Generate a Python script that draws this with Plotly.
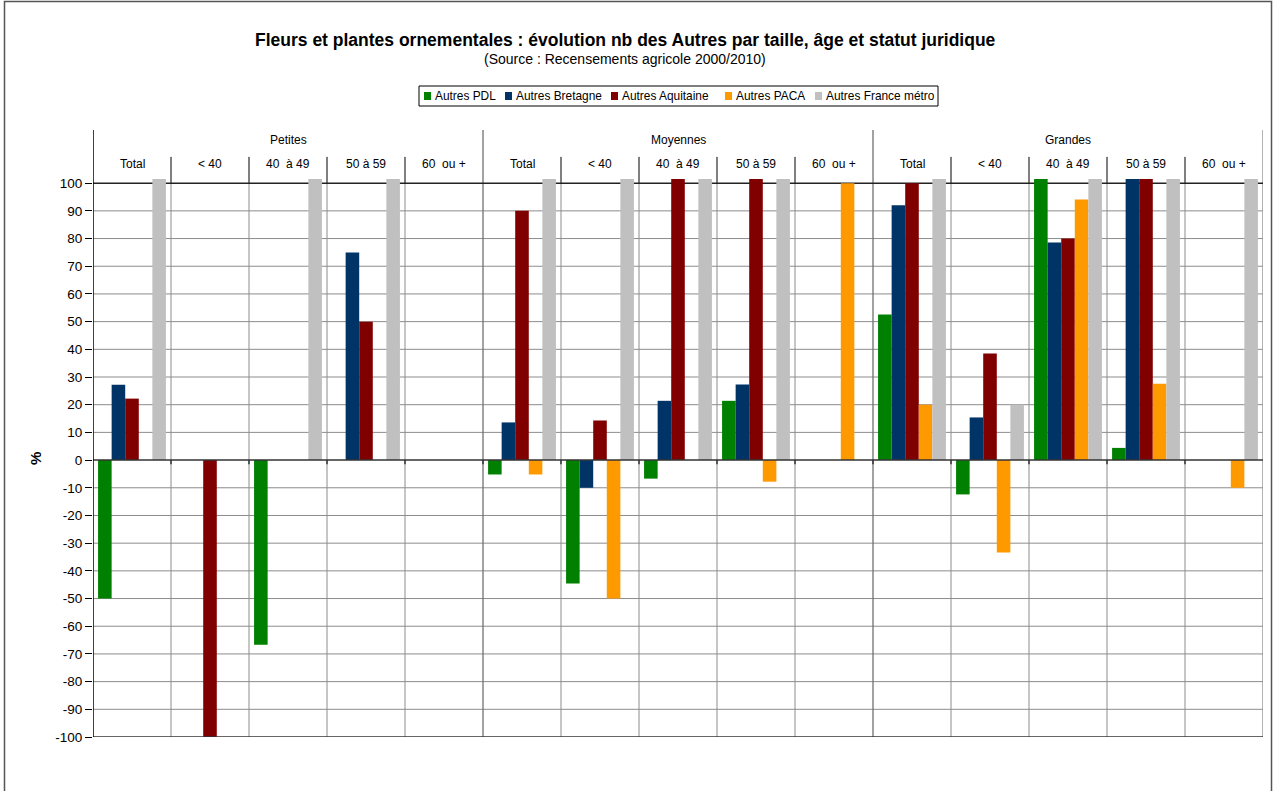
import plotly.graph_objects as go

# Category structure: three size classes, five age brackets each
groups = ["Petites", "Moyennes", "Grandes"]
ages = ["Total", "< 40", "40\u00a0 à 49", "50 à 59", "60\u00a0 ou +"]

series_names = ["Autres PDL", "Autres Bretagne", "Autres Aquitaine", "Autres PACA", "Autres France métro"]

# Evolution 2000/2010 (%) per category, in order Petites x5, Moyennes x5, Grandes x5
pdl       = [-50, None, -66.7, None, None,   -5.2, -44.6, -6.7, 21.4, None,   52.6, -12.4, 101.5, 4.4, None]
bretagne  = [27.2, None, None, 75, None,     13.6, -10, 21.4, 27.3, None,     92, 15.4, 78.6, 101.5, None]
aquitaine = [22.2, -100, None, 50, None,     90, 14.3, 101.5, 101.5, None,    100, 38.5, 80, 101.5, None]
paca      = [None, None, None, None, None,   -5.2, -50, None, -7.8, 100,      20, -33.4, 94.1, 27.6, -10]
france    = [101.5, None, 101.5, 101.5, None, 101.5, 101.5, 101.5, 101.5, None, 101.5, 20, 101.5, 101.5, 101.5]

colors = ["#008000", "#003366", "#800000", "#FF9900", "#C0C0C0"]

y_ticks = list(range(-100, 101, 10))

n_cat = len(groups) * len(ages)
xs = list(range(n_cat))

FONT = "Liberation Sans, Arial, sans-serif"

# page geometry (pixels) used to place items outside the plotting area
W, H = 1276, 791
ML, MR, MT, MB = 93, 13, 130, 54
PW, PH = W - ML - MR, H - MT - MB


def px(x):
    return (x - ML) / PW


def py(y):
    return (H - MB - y) / PH


fig = go.Figure()
for name, vals, col in zip(series_names, [pdl, bretagne, aquitaine, paca, france], colors):
    fig.add_trace(go.Bar(x=xs, y=vals, name=name, showlegend=False,
                         marker=dict(color=col, line=dict(width=0))))

Y_TOP = 119.2        # top of the header band above the value axis
Y_GROUP_SEP = 111.5  # bottom of the size-class header row
shapes = []
# horizontal gridlines
for v in y_ticks:
    if v in (0, 100, -100):
        continue
    shapes.append(dict(type="line", xref="x", yref="y", x0=-0.5, x1=n_cat - 0.5, y0=v, y1=v,
                       line=dict(color="#8c8c8c", width=1), layer="below"))
# vertical separators between age brackets
for i in range(1, n_cat):
    if i % len(ages) == 0:
        continue
    shapes.append(dict(type="line", xref="x", yref="y", x0=i - 0.5, x1=i - 0.5, y0=-100, y1=100,
                       line=dict(color="#8c8c8c", width=1), layer="below"))
    shapes.append(dict(type="line", xref="x", yref="y", x0=i - 0.5, x1=i - 0.5, y0=100, y1=Y_GROUP_SEP - 2,
                       line=dict(color="#000000", width=1), layer="below"))
# separators between size classes (full height)
for i in range(len(ages), n_cat, len(ages)):
    shapes.append(dict(type="line", xref="x", yref="y", x0=i - 0.5, x1=i - 0.5, y0=-100, y1=Y_TOP,
                       line=dict(color="#707070", width=1.3), layer="below"))
# right edge
shapes.append(dict(type="line", xref="x", yref="y", x0=n_cat - 0.5, x1=n_cat - 0.5, y0=-100, y1=Y_TOP,
                   line=dict(color="#8c8c8c", width=1.3), layer="below"))
# zero line, top axis line and bottom line
shapes.append(dict(type="line", xref="x", yref="y", x0=-0.5, x1=n_cat - 0.5, y0=0, y1=0,
                   line=dict(color="#333333", width=1.5), layer="above"))
shapes.append(dict(type="line", xref="x", yref="y", x0=-0.5, x1=n_cat - 0.5, y0=100, y1=100,
                   line=dict(color="#222222", width=1.5), layer="below"))
shapes.append(dict(type="line", xref="x", yref="y", x0=-0.5, x1=n_cat - 0.5, y0=-100, y1=-100,
                   line=dict(color="#333333", width=1.5), layer="above"))
# small ticks on zero line at category boundaries
for i in range(1, n_cat):
    shapes.append(dict(type="line", xref="x", yref="y", x0=i - 0.5, x1=i - 0.5, y0=0, y1=-1.5,
                       line=dict(color="#333333", width=1.5), layer="above"))
# left axis line
shapes.append(dict(type="line", xref="x", yref="y", x0=-0.5, x1=-0.5, y0=-100, y1=Y_TOP,
                   line=dict(color="#000000", width=1.5), layer="above"))
# outer chart frame
shapes.append(dict(type="rect", xref="paper", yref="paper",
                   x0=px(4.5), x1=px(1271.5), y0=-0.2, y1=py(1.5),
                   line=dict(color="#555555", width=1.5), fillcolor="rgba(0,0,0,0)"))

annotations = []
for g, grp in enumerate(groups):
    annotations.append(dict(x=g * len(ages) + 2, y=115.5, xref="x", yref="y", text=grp,
                            showarrow=False, font=dict(family=FONT, size=12, color="#000")))
    for a, age in enumerate(ages):
        annotations.append(dict(x=g * len(ages) + a, y=106.8, xref="x", yref="y", text=age,
                                showarrow=False, font=dict(family=FONT, size=12, color="#000")))

# titles
annotations.append(dict(x=px(625), y=py(40), xref="paper", yref="paper",
                        xanchor="center", yanchor="middle",
                        text="<b>Fleurs et plantes ornementales : évolution nb des Autres par taille, âge et statut juridique</b>",
                        showarrow=False, font=dict(family=FONT, size=17.5, color="#000")))
annotations.append(dict(x=px(625), y=py(59), xref="paper", yref="paper",
                        xanchor="center", yanchor="middle",
                        text="(Source : Recensements agricole 2000/2010)",
                        showarrow=False, font=dict(family=FONT, size=14, color="#000")))
annotations.append(dict(x=px(35), y=py(459), xref="paper", yref="paper",
                        xanchor="center", yanchor="middle",
                        text="<b>%</b>", textangle=-90,
                        showarrow=False, font=dict(family=FONT, size=15, color="#000")))

# legend: framed row of colour keys above the chart
LEG_BOX = (419, 86, 938, 106)
LEG_KEYS_X = [424, 505, 611, 725, 815]
LEG_MID = (LEG_BOX[1] + LEG_BOX[3]) / 2
shapes.append(dict(type="rect", xref="paper", yref="paper",
                   x0=px(LEG_BOX[0]), x1=px(LEG_BOX[2]), y0=py(LEG_BOX[3]), y1=py(LEG_BOX[1]),
                   line=dict(color="#000", width=1), fillcolor="white"))
for name, col, kx in zip(series_names, colors, LEG_KEYS_X):
    shapes.append(dict(type="rect", xref="paper", yref="paper",
                       x0=px(kx), x1=px(kx + 7), y0=py(LEG_MID + 4), y1=py(LEG_MID - 4),
                       line=dict(width=0), fillcolor=col))
    annotations.append(dict(x=px(kx + 9), y=py(LEG_MID), xref="paper", yref="paper",
                            xanchor="left", yanchor="middle", text=name, showarrow=False,
                            font=dict(family=FONT, size=11.9, color="#000")))

fig.update_layout(
    width=W, height=H,
    margin=dict(l=ML, r=MR, t=MT, b=MB),
    paper_bgcolor="white", plot_bgcolor="white",
    barmode="group", bargap=0.13, bargroupgap=0,
    font=dict(family=FONT, size=12, color="#000"),
    showlegend=False,
    shapes=shapes, annotations=annotations,
    xaxis=dict(range=[-0.5, n_cat - 0.5], showticklabels=False, showgrid=False,
               zeroline=False, showline=False, ticks=""),
    yaxis=dict(range=[-100, Y_TOP], tickvals=y_ticks, ticktext=[str(v) for v in y_ticks],
               showgrid=False, zeroline=False, showline=False, ticks="outside",
               ticklen=7, tickcolor="#000", tickwidth=1.2,
               tickfont=dict(family=FONT, size=13.5, color="#000")),
)

fig.write_html("out.html")
